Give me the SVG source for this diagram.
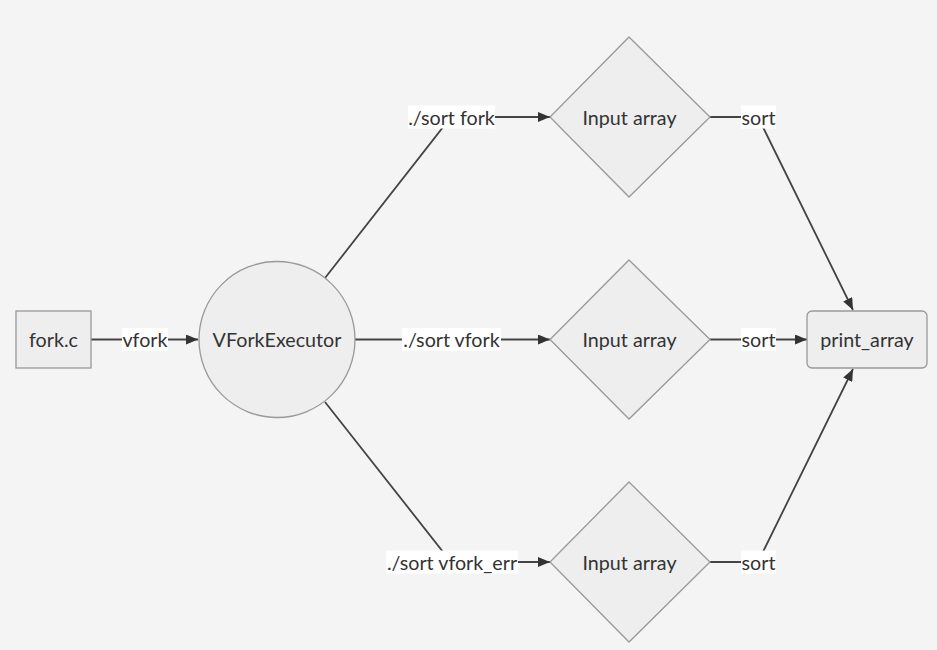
<svg xmlns="http://www.w3.org/2000/svg" width="937" height="650" viewBox="0 0 937 650">
<style>
.node{fill:#eeeeee;stroke:#999999;stroke-width:1.3}
.t{font-family:Lato,"Open Sans","Liberation Sans",sans-serif;font-size:19.7px;fill:#333333;text-anchor:middle;dominant-baseline:central}
.e{fill:none;stroke:#444444;stroke-width:1.8}
.lb{fill:#ffffff;stroke:none}
</style>
<defs>
<marker id="arr" viewBox="0 0 12 10" refX="12" refY="5" markerWidth="12" markerHeight="10" markerUnits="userSpaceOnUse" orient="auto">
<path d="M0,0 L12,5 L0,10 z" fill="#333333"/>
</marker>
</defs>
<rect width="937" height="650" fill="#f4f4f4"/>
<g id="connectors">
<path class="e" d="M91,339.5 L198,339.5" marker-end="url(#arr)"/>
<path class="e" d="M325,278 L451,117 L550,117" marker-end="url(#arr)"/>
<path class="e" d="M355,339.5 L550,339.5" marker-end="url(#arr)"/>
<path class="e" d="M325,402 L451,562 L550,562" marker-end="url(#arr)"/>
<path class="e" d="M710,117 L758,117 L853,310" marker-end="url(#arr)"/>
<path class="e" d="M710,339.5 L807,339.5" marker-end="url(#arr)"/>
<path class="e" d="M710,562 L758,562 L853,369" marker-end="url(#arr)"/>
<g id="labels">
<rect class="lb" x="122" y="328" width="46" height="23"/>
<text class="t" x="145" y="339.5">vfork</text>
<rect class="lb" x="408" y="105.5" width="87" height="23"/>
<text class="t" x="451.5" y="117">./sort fork</text>
<rect class="lb" x="402" y="328" width="99" height="23"/>
<text class="t" x="451.5" y="339.5">./sort vfork</text>
<rect class="lb" x="386" y="550.5" width="132" height="23"/>
<text class="t" x="452" y="562">./sort vfork_err</text>
<rect class="lb" x="741" y="105.5" width="35" height="23"/>
<text class="t" x="758.5" y="117">sort</text>
<rect class="lb" x="741" y="328" width="35" height="23"/>
<text class="t" x="758.5" y="339.5">sort</text>
<rect class="lb" x="741" y="550.5" width="35" height="23"/>
<text class="t" x="758.5" y="562">sort</text>
</g>
</g>
<g id="forkc">
<rect class="node" x="16" y="311" width="75" height="57"/>
<text class="t" x="53.5" y="339.5">fork.c</text>
</g>
<g id="vforkexecutor">
<circle class="node" cx="277" cy="339.5" r="78"/>
<text class="t" x="277" y="339.5">VForkExecutor</text>
</g>
<g id="input1">
<polygon class="node" points="629,37 710,117 629,197 550,117"/>
<text class="t" x="629.5" y="117">Input array</text>
</g>
<g id="input2">
<polygon class="node" points="629,260 710,339.5 629,419 550,339.5"/>
<text class="t" x="629.5" y="339.5">Input array</text>
</g>
<g id="input3">
<polygon class="node" points="629,482 710,562 629,642 550,562"/>
<text class="t" x="629.5" y="562">Input array</text>
</g>
<g id="printarray">
<rect class="node" x="807" y="311" width="120" height="57" rx="5" ry="5"/>
<text class="t" x="867" y="339.5">print_array</text>
</g>
</svg>
